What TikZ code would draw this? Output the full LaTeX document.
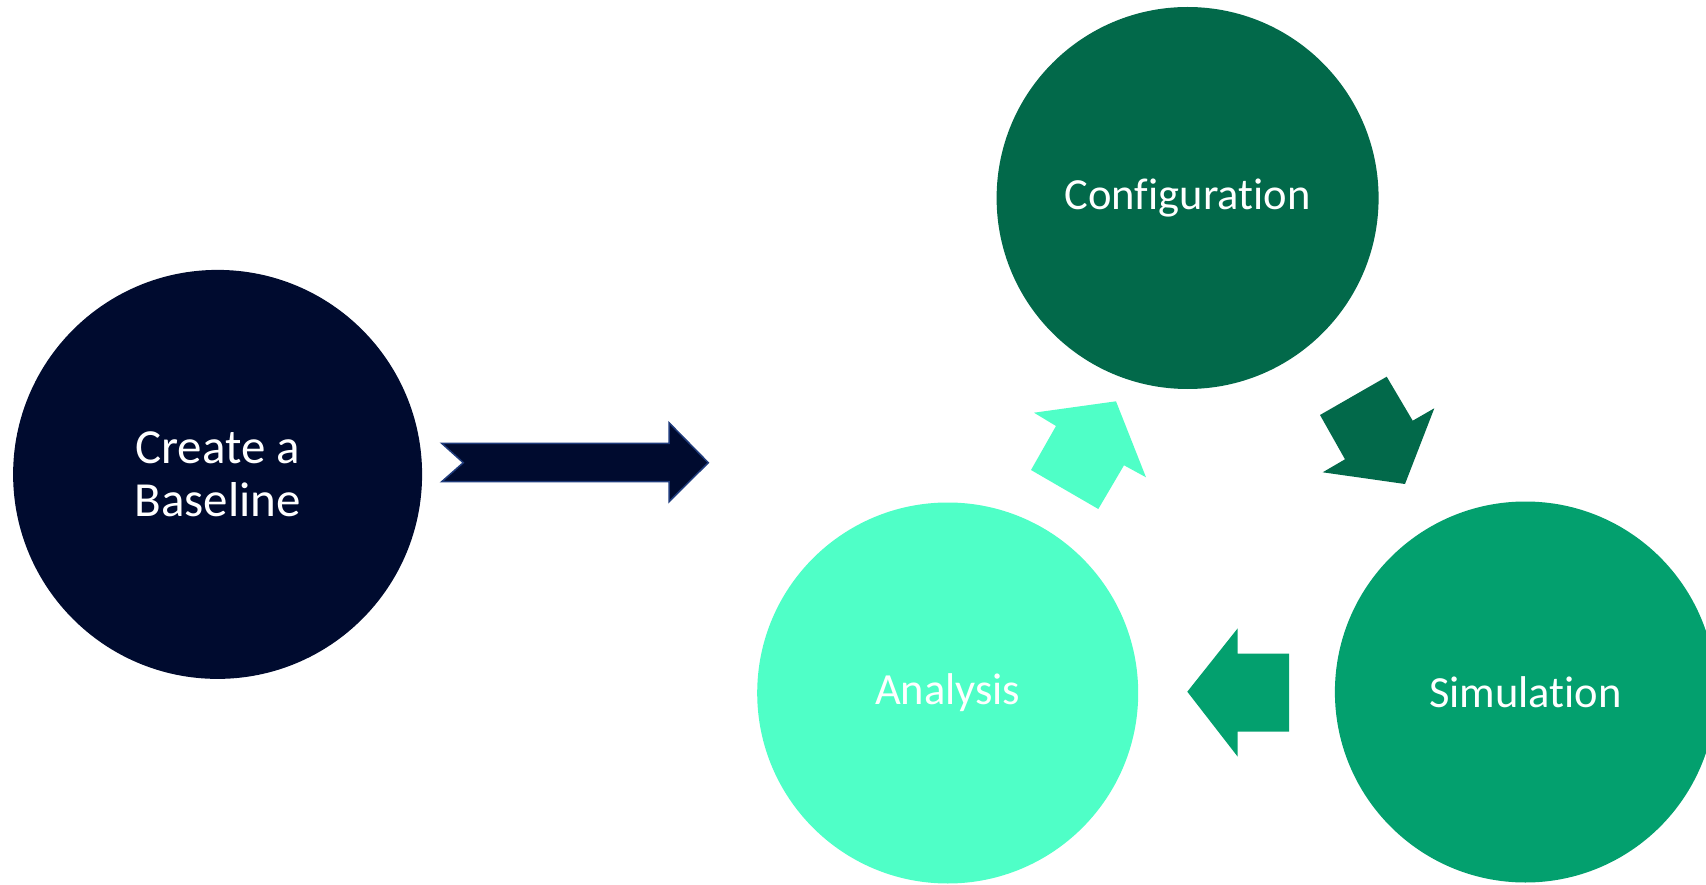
\documentclass[tikz,border=0pt]{standalone}
\usepackage{fontspec}
\setmainfont{Carlito}[Ligatures=NoCommon]
\definecolor{navy}{HTML}{000B2F}
\definecolor{navyedge}{HTML}{203C7C}
\definecolor{darkgreen}{HTML}{02694A}
\definecolor{midgreen}{HTML}{03A06E}
\definecolor{aqua}{HTML}{4FFFC7}
\begin{document}
\begin{tikzpicture}[x=1pt,y=-1pt,
  stage/.style={circle,inner sep=0pt,minimum size=#1,text=white,
    font=\fontsize{44.5}{53}\selectfont,align=center},
  blockarrow/.style={fill=#1,draw=none}]
\useasboundingbox (0,0) rectangle (1706,885);
\clip (0,0) rectangle (1706,885);

% stages
\node[stage=409pt,fill=navy,font=\fontsize{49}{53}\selectfont] (base) at (217.6,474.4) {Create a\\Baseline};
\node[stage=382pt,fill=darkgreen] (config) at (1187.6,198) {Configuration};
\node[stage=381pt,fill=aqua] (analysis) at (947.7,693) {Analysis};
\node[stage=381pt,fill=midgreen] (sim) at (1525.4,692) {Simulation};

% notched arrow from the baseline into the cycle
\filldraw[fill=navy,draw=navyedge,line width=1.5pt,line join=miter]
  (441.7,443.3) -- (669,443.3) -- (669,422.7) -- (708.3,462.7)
  -- (669,501.7) -- (669,481.7) -- (441.7,481.7) -- (463.3,462.7) -- cycle;

% configuration -> simulation
\fill[blockarrow=darkgreen]
  (1320,415) -- (1386.7,376.7) -- (1412.7,420.7) -- (1434.3,408.3)
  -- (1405,484) -- (1322.7,472.3) -- (1345,459.3) -- cycle;

% simulation -> analysis
\fill[blockarrow=midgreen]
  (1289,653.7) -- (1237.7,653.7) -- (1237.7,628.3) -- (1187.3,691.7)
  -- (1237.7,756.7) -- (1237.7,731.7) -- (1289,731.7) -- cycle;

% analysis -> configuration
\fill[blockarrow=aqua]
  (1031,470) -- (1056,426) -- (1034,412.7) -- (1116,401.3)
  -- (1146,477.3) -- (1124,465.3) -- (1098.3,509) -- cycle;
\end{tikzpicture}
\end{document}
